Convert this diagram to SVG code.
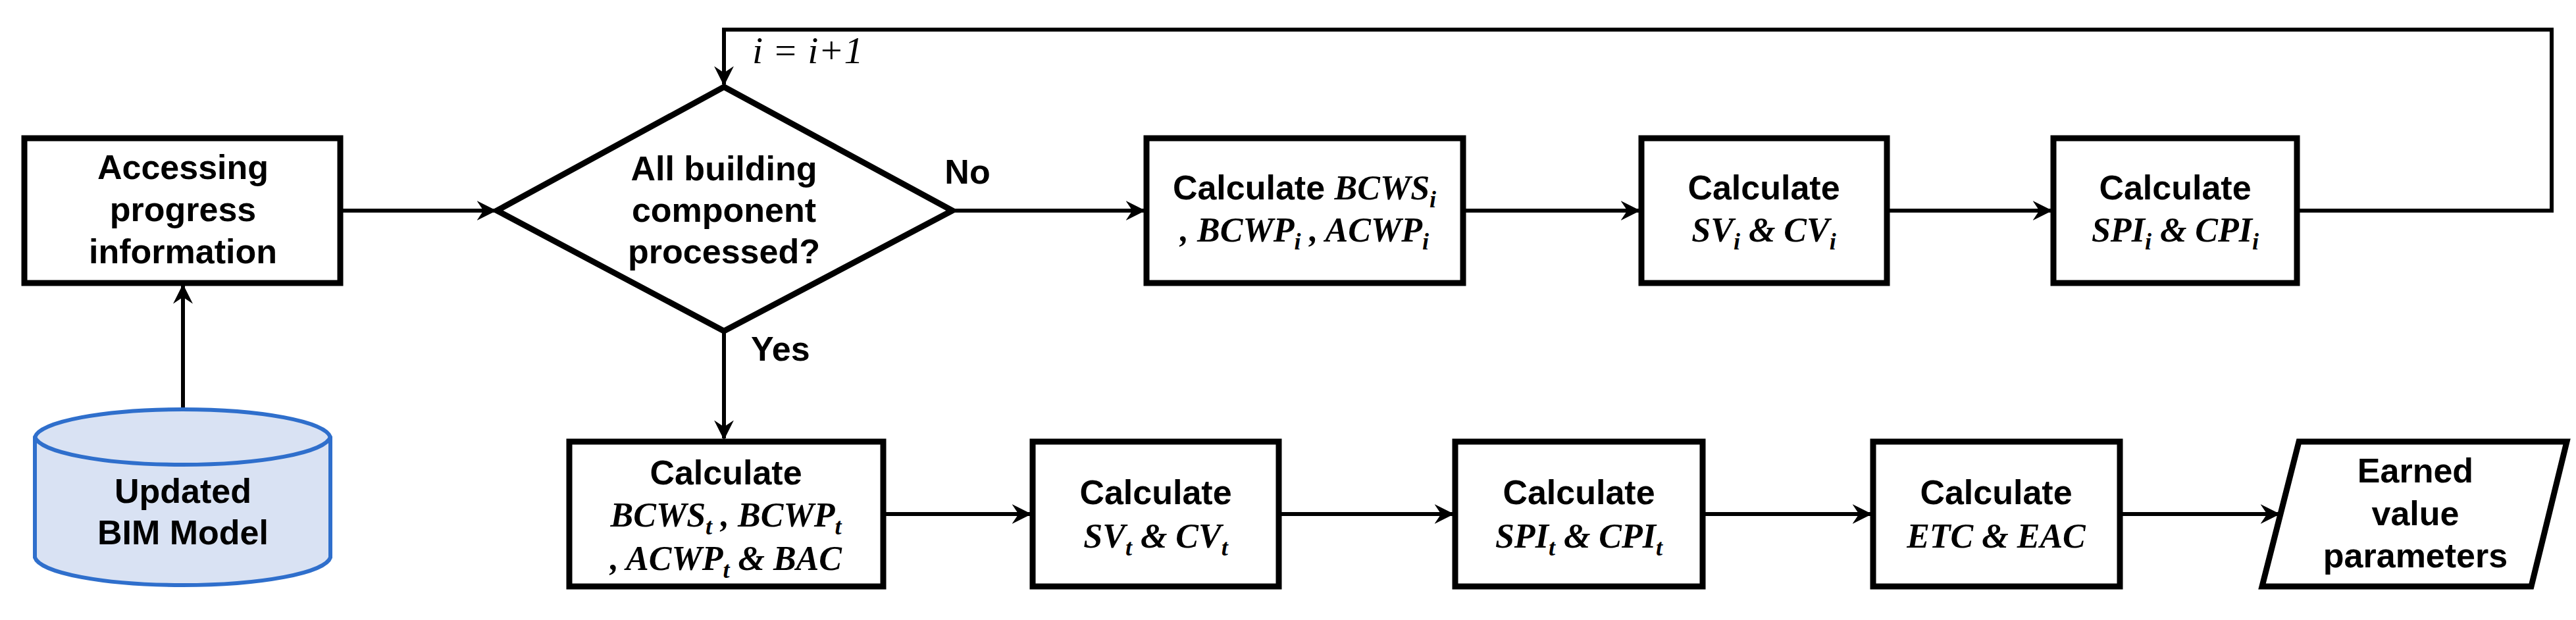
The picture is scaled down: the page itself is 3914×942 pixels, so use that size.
<svg xmlns="http://www.w3.org/2000/svg" width="3914" height="942" viewBox="0 0 3914 942">
<style>
.b{fill:#fff;stroke:#000;stroke-width:9}
.t{font-family:"Liberation Sans",Arial,sans-serif;font-weight:bold;font-size:52px;text-anchor:middle;fill:#000}
.m{font-family:"Liberation Serif","Times New Roman",serif;font-style:italic;font-weight:bold;font-size:52px}
.s{font-size:36px}
.c{fill:none;stroke:#000;stroke-width:6}
</style>
<defs>
<marker id="a" viewBox="0 0 12 12" refX="11" refY="6" markerWidth="5" markerHeight="5" orient="auto" markerUnits="strokeWidth">
<path d="M0,0 L12,6 L0,12 L4,6 Z" fill="#000"/>
</marker>
</defs>
<g id="connectors">
<path class="c" d="M517,320 H752" marker-end="url(#a)"/>
<path class="c" d="M278,619 V434" marker-end="url(#a)"/>
<path class="c" d="M1447,320 H1738" marker-end="url(#a)"/>
<path class="c" d="M2223,320 H2490" marker-end="url(#a)"/>
<path class="c" d="M2867,320 H3116" marker-end="url(#a)"/>
<path class="c" d="M3490,320 H3877 V45 H1100 V128" marker-end="url(#a)"/>
<path class="c" d="M1100,503 V666" marker-end="url(#a)"/>
<path class="c" d="M1342,781 H1565" marker-end="url(#a)"/>
<path class="c" d="M1943,781 H2207" marker-end="url(#a)"/>
<path class="c" d="M2587,781 H2842" marker-end="url(#a)"/>
<path class="c" d="M3221,781 H3462" marker-end="url(#a)"/>
<text x="1143" y="96" style="font-family:'Liberation Serif',serif;font-style:italic;font-size:58px">i = i+1</text>
<text class="t" x="1470" y="279">No</text>
<text class="t" x="1141" y="548" style="text-anchor:start">Yes</text>
</g>
<g id="access">
<rect class="b" x="37" y="210" width="480" height="220"/>
<text class="t" x="278" y="272">Accessing</text>
<text class="t" x="278" y="336">progress</text>
<text class="t" x="278" y="400">information</text>
</g>
<g id="bim">
<path d="M53,664 V847 A225,45 0 0 0 502,847 V664 A225,45 0 0 0 53,664 Z" fill="#d9e2f3" stroke="#2f6fcc" stroke-width="6"/>
<path d="M53,664 A225,45 0 0 0 502,664" fill="none" stroke="#2f6fcc" stroke-width="6"/>
<text class="t" x="278" y="764">Updated</text>
<text class="t" x="278" y="827">BIM Model</text>
</g>
<g id="decision">
<polygon class="b" points="1100,132 1447,320 1100,503 755,320"/>
<text class="t" x="1100" y="274">All building</text>
<text class="t" x="1100" y="337">component</text>
<text class="t" x="1100" y="400">processed?</text>
</g>
<g id="bcwsi">
<rect class="b" x="1742" y="210" width="481" height="220"/>
<text class="t" x="1982" y="303">Calculate <tspan class="m">BCWS<tspan class="s" dy="12">i</tspan></tspan></text>
<text class="t" x="1982" y="367"><tspan class="m">, BCWP<tspan class="s" dy="12">i</tspan><tspan dy="-12"> , ACWP</tspan><tspan class="s" dy="12">i</tspan></tspan></text>
</g>
<g id="svi">
<rect class="b" x="2494" y="210" width="373" height="220"/>
<text class="t" x="2680" y="303">Calculate</text>
<text class="t" x="2680" y="367"><tspan class="m">SV<tspan class="s" dy="12">i</tspan><tspan dy="-12"> &amp; CV</tspan><tspan class="s" dy="12">i</tspan></tspan></text>
</g>
<g id="spii">
<rect class="b" x="3120" y="210" width="370" height="220"/>
<text class="t" x="3305" y="303">Calculate</text>
<text class="t" x="3305" y="367"><tspan class="m">SPI<tspan class="s" dy="12">i</tspan><tspan dy="-12"> &amp; CPI</tspan><tspan class="s" dy="12">i</tspan></tspan></text>
</g>
<g id="bcwst">
<rect class="b" x="865" y="671" width="477" height="220"/>
<text class="t" x="1103" y="736">Calculate</text>
<text class="t" x="1103" y="800"><tspan class="m">BCWS<tspan class="s" dy="12">t</tspan><tspan dy="-12"> , BCWP</tspan><tspan class="s" dy="12">t</tspan></tspan></text>
<text class="t" x="1103" y="866"><tspan class="m">, ACWP<tspan class="s" dy="12">t</tspan><tspan dy="-12"> &amp; BAC</tspan></tspan></text>
</g>
<g id="svt">
<rect class="b" x="1569" y="671" width="374" height="220"/>
<text class="t" x="1756" y="766">Calculate</text>
<text class="t" x="1756" y="832"><tspan class="m">SV<tspan class="s" dy="12">t</tspan><tspan dy="-12"> &amp; CV</tspan><tspan class="s" dy="12">t</tspan></tspan></text>
</g>
<g id="spit">
<rect class="b" x="2211" y="671" width="376" height="220"/>
<text class="t" x="2399" y="766">Calculate</text>
<text class="t" x="2399" y="832"><tspan class="m">SPI<tspan class="s" dy="12">t</tspan><tspan dy="-12"> &amp; CPI</tspan><tspan class="s" dy="12">t</tspan></tspan></text>
</g>
<g id="etc">
<rect class="b" x="2846" y="671" width="375" height="220"/>
<text class="t" x="3033" y="766">Calculate</text>
<text class="t" x="3033" y="832"><tspan class="m">ETC &amp; EAC</tspan></text>
</g>
<g id="earned">
<polygon class="b" points="3493,671 3900,671 3846,891 3437,891"/>
<text class="t" x="3670" y="733">Earned</text>
<text class="t" x="3670" y="798">value</text>
<text class="t" x="3670" y="862">parameters</text>
</g>
</svg>
